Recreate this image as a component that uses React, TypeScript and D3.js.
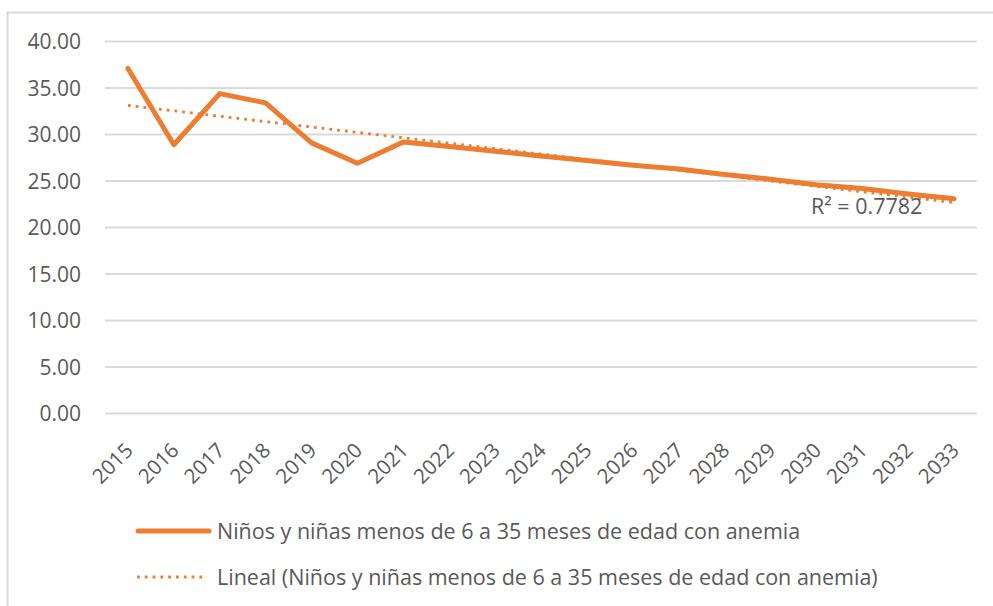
import React, { useEffect, useRef } from "react";
import * as d3 from "d3";

const years = [
  "2015", "2016", "2017", "2018", "2019", "2020", "2021", "2022", "2023", "2024",
  "2025", "2026", "2027", "2028", "2029", "2030", "2031", "2032", "2033",
];
const anemia = [
  37.1, 28.9, 34.4, 33.4, 29.1, 26.9, 29.2, 28.7, 28.2, 27.7,
  27.2, 26.7, 26.3, 25.7, 25.2, 24.6, 24.2, 23.6, 23.1,
];
const yTicks = [0, 5, 10, 15, 20, 25, 30, 35, 40];
const seriesName = "Niños y niñas menos de 6 a 35 meses de edad con anemia";
const trendName = "Lineal (Niños y niñas menos de 6 a 35 meses de edad con anemia)";
const r2Label = "R² = 0.7782";

const ORANGE = "#ED7D31";
const GRAY_TEXT = "#595959";
const GRID = "#D9D9D9";
const FONT = "'Open Sans', Lato, sans-serif";

export default function App() {
  const svgRef = useRef<SVGSVGElement>(null);

  useEffect(() => {
    if (!svgRef.current) return;
    const svg = d3.select(svgRef.current);
    svg.selectAll("*").remove();

    const width = 993;
    const height = 606;
    const left = 105;
    const right = 977;
    const top = 41.5;
    const bottom = 413.5;

    // chart frame (cut off on right / bottom like the screenshot)
    svg.append("rect")
      .attr("x", 7.5).attr("y", 12.5)
      .attr("width", width + 20).attr("height", height + 20)
      .attr("fill", "#fff").attr("stroke", GRID).attr("stroke-width", 2);

    const x = d3.scaleBand().domain(years).range([left, right]);
    const y = d3.scaleLinear().domain([0, 40]).range([bottom, top]);
    const cx = (d: string) => (x(d) as number) + x.bandwidth() / 2;

    // gridlines
    svg.append("g")
      .selectAll("line")
      .data(yTicks)
      .enter()
      .append("line")
      .attr("x1", left).attr("x2", right)
      .attr("y1", (d) => y(d)).attr("y2", (d) => y(d))
      .attr("stroke", GRID).attr("stroke-width", 2);

    // y labels
    svg.append("g")
      .selectAll("text")
      .data(yTicks)
      .enter()
      .append("text")
      .attr("x", 81)
      .attr("y", (d) => y(d))
      .attr("dy", "0.36em")
      .attr("text-anchor", "end")
      .attr("fill", GRAY_TEXT)
      .style("font-family", FONT)
      .style("font-size", "21px")
      .text((d) => d.toFixed(2));

    // x labels, rotated
    svg.append("g")
      .selectAll("text")
      .data(years)
      .enter()
      .append("text")
      .attr("transform", (d) => `translate(${cx(d) + 1}, ${bottom + 33}) rotate(-45)`)
      .attr("text-anchor", "end")
      .attr("dy", "0.36em")
      .attr("fill", GRAY_TEXT)
      .style("font-family", FONT)
      .style("font-size", "20.5px")
      .text((d) => d);

    // linear trend (least squares on index)
    const n = anemia.length;
    const xs = anemia.map((_, i) => i + 1);
    const mx = d3.mean(xs) as number;
    const my = d3.mean(anemia) as number;
    let sxy = 0;
    let sxx = 0;
    xs.forEach((xi, i) => {
      sxy += (xi - mx) * (anemia[i] - my);
      sxx += (xi - mx) * (xi - mx);
    });
    const slope = sxy / sxx;
    const icpt = my - slope * mx;
    const trend: [string, number][] = [
      [years[0], icpt + slope * 1],
      [years[n - 1], icpt + slope * n],
    ];

    const line = d3.line<[string, number]>()
      .x((d) => cx(d[0]))
      .y((d) => y(d[1]));

    svg.append("path")
      .datum(years.map((yr, i) => [yr, anemia[i]] as [string, number]))
      .attr("d", line)
      .attr("fill", "none")
      .attr("stroke", ORANGE)
      .attr("stroke-width", 5)
      .attr("stroke-linejoin", "round")
      .attr("stroke-linecap", "round");

    svg.append("path")
      .datum(trend)
      .attr("d", line)
      .attr("fill", "none")
      .attr("stroke", ORANGE)
      .attr("stroke-width", 2.8)
      .attr("stroke-dasharray", "2.8,5");

    svg.append("text")
      .attr("x", 811).attr("y", 214)
      .attr("fill", GRAY_TEXT)
      .style("font-family", FONT)
      .style("font-size", "21.5px")
      .text(r2Label);

    // legend
    const lg = svg.append("g");
    lg.append("line")
      .attr("x1", 138).attr("x2", 209).attr("y1", 531).attr("y2", 531)
      .attr("stroke", ORANGE).attr("stroke-width", 5).attr("stroke-linecap", "round");
    lg.append("text")
      .attr("x", 217).attr("y", 531).attr("dy", "0.36em")
      .attr("fill", GRAY_TEXT)
      .style("font-family", FONT).style("font-size", "21.5px")
      .text(seriesName);
    lg.append("line")
      .attr("x1", 137).attr("x2", 207).attr("y1", 577).attr("y2", 577)
      .attr("stroke", ORANGE).attr("stroke-width", 2.8).attr("stroke-dasharray", "2.8,5");
    lg.append("text")
      .attr("x", 217).attr("y", 577).attr("dy", "0.36em")
      .attr("fill", GRAY_TEXT)
      .style("font-family", FONT).style("font-size", "21.5px")
      .text(trendName);
  }, []);

  return (
    <div style={{ position: "fixed", left: 0, top: 0, width: 993, height: 606, background: "#fff" }}>
      <svg ref={svgRef} width={993} height={606} style={{ display: "block" }}></svg>
    </div>
  );
}
